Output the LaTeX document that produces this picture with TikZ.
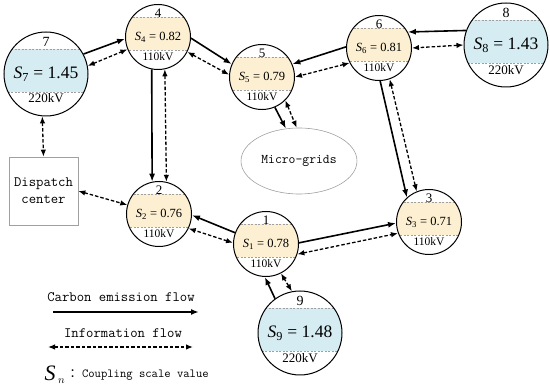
\documentclass[tikz,border=0pt]{standalone}
\usepackage{fix-cm}
\usepackage{fontspec}
\setmainfont{Liberation Serif}
\newfontfamily\cjkfont{Noto Sans CJK SC}
\usetikzlibrary{positioning,arrows.meta,calc,shapes.geometric}
\definecolor{busyellow}{HTML}{FDF0D2}
\definecolor{busblue}{HTML}{D5ECF2}
\definecolor{bandgray}{HTML}{A0A0A0}
\tikzset{
  bandline/.style={draw=bandgray, line width=0.5pt, dash pattern=on 2pt off 1.5pt},
  bus110/.style={circle, draw, line width=1pt, minimum size=65pt, inner sep=0pt,
    font=\fontsize{12.5}{12.5}\selectfont,
    path picture={
      \fill[busyellow] ([yshift=-13pt]path picture bounding box.west) rectangle ([yshift=20pt]path picture bounding box.east);
      \draw[bandline] ([yshift=-13pt]path picture bounding box.west) -- ([yshift=-13pt]path picture bounding box.east);
      \draw[bandline] ([yshift=20pt]path picture bounding box.west) -- ([yshift=20pt]path picture bounding box.east);
    }},
  bus220/.style={circle, draw, line width=1pt, minimum size=84pt, inner sep=0pt,
    font=\fontsize{17.5}{17.5}\selectfont,
    path picture={
      \fill[busblue] ([yshift=-18pt]path picture bounding box.west) rectangle ([yshift=25pt]path picture bounding box.east);
      \draw[bandline] ([yshift=-18pt]path picture bounding box.west) -- ([yshift=-18pt]path picture bounding box.east);
      \draw[bandline] ([yshift=25pt]path picture bounding box.west) -- ([yshift=25pt]path picture bounding box.east);
    }},
  smallnum/.style={inner sep=0pt, font=\fontsize{13}{13}\selectfont},
  smallkv/.style={inner sep=0pt, font=\fontsize{11.5}{11.5}\selectfont},
  bignum/.style={inner sep=0pt, font=\fontsize{14}{14}\selectfont},
  bigkv/.style={inner sep=0pt, font=\fontsize{13}{13}\selectfont},
  carbon/.style={-{Latex[length=8pt,width=6pt]}, line width=1.6pt},
  info/.style={{Latex[length=7pt,width=5.5pt]}-{Latex[length=7pt,width=5.5pt]}, line width=1.3pt, dash pattern=on 3.5pt off 2pt},
  legendtext/.style={inner sep=0pt, font=\ttfamily\fontsize{14.3}{14.3}\selectfont}
}
\begin{document}
\begin{tikzpicture}[x=1pt, y=-1pt]
\useasboundingbox (0,0) rectangle (550,387);
\node[bus220] (n7) at (46,74) {\textit{S}\textsubscript{7} = 1.45};
\node[bignum] (n7num) at ([yshift=32pt]n7.center) {7};
\node[bigkv] (n7kv) at ([yshift=-24pt]n7.center) {220kV};
\node[bus110] (n4) at (158,37) {\textit{S}\textsubscript{4} = 0.82};
\node[smallnum] (n4num) at ([yshift=24pt]n4.center) {4};
\node[smallkv] (n4kv) at ([yshift=-20pt]n4.center) {110kV};
\node[bus110] (n5) at (262,77) {\textit{S}\textsubscript{5} = 0.79};
\node[smallnum] (n5num) at ([yshift=24pt]n5.center) {5};
\node[smallkv] (n5kv) at ([yshift=-20pt]n5.center) {110kV};
\node[bus110] (n6) at (379,48) {\textit{S}\textsubscript{6} = 0.81};
\node[smallnum] (n6num) at ([yshift=24pt]n6.center) {6};
\node[smallkv] (n6kv) at ([yshift=-20pt]n6.center) {110kV};
\node[bus220] (n8) at (506,45) {\textit{S}\textsubscript{8} = 1.43};
\node[bignum] (n8num) at ([yshift=32pt]n8.center) {8};
\node[bigkv] (n8kv) at ([yshift=-25pt]n8.center) {220kV};
\node[bus110] (n2) at (159,214) {\textit{S}\textsubscript{2} = 0.76};
\node[smallnum] (n2num) at ([yshift=24pt]n2.center) {2};
\node[smallkv] (n2kv) at ([yshift=-20pt]n2.center) {110kV};
\node[bus110] (n1) at (266,244) {\textit{S}\textsubscript{1} = 0.78};
\node[smallnum] (n1num) at ([yshift=24pt]n1.center) {1};
\node[smallkv] (n1kv) at ([yshift=-20pt]n1.center) {110kV};
\node[bus110] (n3) at (429,222) {\textit{S}\textsubscript{3} = 0.71};
\node[smallnum] (n3num) at ([yshift=24pt]n3.center) {3};
\node[smallkv] (n3kv) at ([yshift=-20pt]n3.center) {110kV};
\node[bus220] (n9) at (300,333) {\textit{S}\textsubscript{9} = 1.48};
\node[bignum] (n9num) at ([yshift=32pt]n9.center) {9};
\node[bigkv] (n9kv) at ([yshift=-25pt]n9.center) {220kV};
\node[ellipse, draw=bandgray, line width=0.6pt, minimum width=104pt, minimum height=66pt, font=\ttfamily\fontsize{13.3}{13.3}\selectfont] (microgrid) at (299,161) {Micro-grids};
\node[draw=bandgray, line width=0.6pt, minimum width=69pt, minimum height=68pt, align=center, font=\ttfamily\fontsize{14.3}{17}\selectfont] (dispatch) at (43.5,191) {Dispatch\\center};
\draw[carbon] (n7.28) -- (n4.183);
\draw[info] (n7.11) -- (n4.202);
\draw[carbon] (n4.259) -- (n2.102);
\draw[info] (n4.282) -- (n2.77);
\draw[carbon] (n4.358) -- (n5.157);
\draw[info] (n4.333) -- (n5.176);
\draw[carbon] (n6.178) -- (n5.23);
\draw[info] (n6.207) -- (n5.0);
\draw[carbon] (n8.160) -- (n6.29);
\draw[info] (n8.180) -- (n6.0);
\draw[carbon] (n6.272) -- (n3.132);
\draw[info] (n6.289) -- (n3.112);
\draw[carbon] (n5.293) -- (microgrid.112);
\draw[info] (n5.315) -- (microgrid.94);
\draw[info] (n7.265) -- (dispatch.north);
\draw[info] (dispatch.east) -- (n2.164);
\draw[carbon] (n1.160) -- (n2.358);
\draw[info] (n1.178) -- (n2.334);
\draw[carbon] (n1.2) -- (n3.182);
\draw[info] (n1.342) -- (n3.200);
\draw[carbon] (n9.126) -- (n1.268);
\draw[info] (n9.101) -- (n1.297);
\node[legendtext] (carbonlbl) at (121,297) {Carbon emission flow};
\coordinate (carbonA) at (53,312);
\coordinate (carbonB) at (199,312);
\draw[carbon] (carbonA) -- (carbonB);
\node[legendtext] (infolbl) at (123,333) {Information flow};
\coordinate (infoA) at (48,347);
\coordinate (infoB) at (193,347);
\draw[info] (infoA) -- (infoB);
\node[inner sep=0pt, font=\fontsize{22}{22}\selectfont] (snsym) at (55,375) {$\textit{S}_{\,\scriptscriptstyle n}$};
\node[inner sep=0pt, font=\ttfamily\fontsize{12.3}{12.3}\selectfont, right=4pt of snsym] (snlbl) {{\cjkfont ：}Coupling scale value};
\end{tikzpicture}
\end{document}
